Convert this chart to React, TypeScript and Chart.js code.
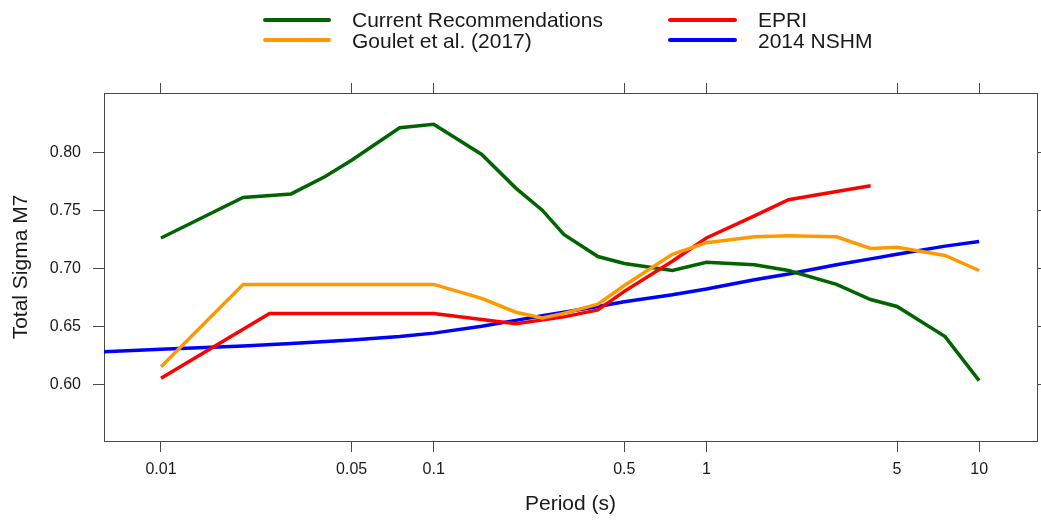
import React, { useEffect, useRef } from "react";
import { Chart, registerables } from "chart.js";

Chart.register(...registerables);

// ---- Data ----
const seriesLabels = ["Current Recommendations", "Goulet et al. (2017)", "EPRI", "2014 NSHM"];

const currentPeriods = [0.01, 0.02, 0.03, 0.04, 0.05, 0.075, 0.1, 0.15, 0.2, 0.25, 0.3, 0.4, 0.5, 0.75, 1, 1.5, 2, 3, 4, 5, 7.5, 10];
const currentSigma = [0.726, 0.761, 0.764, 0.779, 0.793, 0.821, 0.824, 0.798, 0.769, 0.750, 0.729, 0.710, 0.704, 0.698, 0.705, 0.703, 0.698, 0.686, 0.673, 0.667, 0.641, 0.603];

const gouletPeriods = [0.01, 0.02, 0.03, 0.04, 0.05, 0.075, 0.1, 0.15, 0.2, 0.25, 0.3, 0.4, 0.5, 0.75, 1, 1.5, 2, 3, 4, 5, 7.5, 10];
const gouletSigma = [0.615, 0.686, 0.686, 0.686, 0.686, 0.686, 0.686, 0.674, 0.662, 0.657, 0.661, 0.669, 0.685, 0.712, 0.722, 0.727, 0.728, 0.727, 0.717, 0.718, 0.711, 0.698];

const epriPeriods = [0.01, 0.025, 0.05, 0.1, 0.2, 0.3, 0.4, 0.5, 0.75, 1, 1.5, 2, 3, 4];
const epriSigma = [0.605, 0.661, 0.661, 0.661, 0.652, 0.658, 0.664, 0.680, 0.706, 0.726, 0.745, 0.759, 0.766, 0.771];

const nshmPeriods = [0.005, 0.01, 0.02, 0.03, 0.05, 0.075, 0.1, 0.15, 0.2, 0.25, 0.3, 0.4, 0.5, 0.75, 1, 1.5, 2, 3, 4, 5, 7.5, 10];
const nshmSigma = [0.627, 0.630, 0.633, 0.635, 0.638, 0.641, 0.644, 0.650, 0.655, 0.659, 0.662, 0.667, 0.671, 0.677, 0.682, 0.690, 0.695, 0.703, 0.708, 0.712, 0.719, 0.723];

const xTickValues = [0.01, 0.05, 0.1, 0.5, 1, 5, 10];
const xTickLabels = ["0.01", "0.05", "0.1", "0.5", "1", "5", "10"];
const yTickValues = [0.6, 0.65, 0.7, 0.75, 0.8];
const yTickLabels = ["0.60", "0.65", "0.70", "0.75", "0.80"];

const X_MIN = 0.00618;
const X_MAX = 16.3;
const Y_MIN = 0.551;
const Y_MAX = 0.851;

const colors = ["#006400", "#FF9900", "#FF0000", "#0000FF"];
const FONT = "'Liberation Sans', Arial, Helvetica, sans-serif";
const AXIS_COLOR = "#4a4a4a";
const TEXT_COLOR = "#1a1a1a";

const toXY = (xs: number[], ys: number[]) => xs.map((x, i) => ({ x, y: ys[i] }));

const legendPlugin = {
  id: "latticeLegend",
  afterDraw(chart: any) {
    const ctx = chart.ctx;
    const ds = chart.data.datasets;
    const cols = [
      { x0: 265, x1: 329, tx: 352 },
      { x0: 670, x1: 735, tx: 758 },
    ];
    const lineY = [20, 40];
    const textY = [21, 42];
    ctx.save();
    ds.forEach((d: any, i: number) => {
      const c = cols[Math.floor(i / 2)];
      const r = i % 2;
      ctx.strokeStyle = d.borderColor;
      ctx.lineWidth = 4;
      ctx.lineCap = "round";
      ctx.beginPath();
      ctx.moveTo(c.x0, lineY[r]);
      ctx.lineTo(c.x1, lineY[r]);
      ctx.stroke();
      ctx.fillStyle = TEXT_COLOR;
      ctx.font = `21px ${FONT}`;
      ctx.textAlign = "left";
      ctx.textBaseline = "middle";
      ctx.fillText(d.label, c.tx, textY[r]);
    });
    ctx.restore();
  },
};

const gridOpts = (len: number) => ({
  display: true,
  drawOnChartArea: false,
  drawTicks: true,
  tickLength: len,
  color: AXIS_COLOR,
  tickColor: AXIS_COLOR,
  lineWidth: 1,
});
const borderOpts = { display: true, color: AXIS_COLOR, width: 1 };

export default function App() {
  const ref = useRef<HTMLCanvasElement | null>(null);

  useEffect(() => {
    if (!ref.current) return;
    Chart.defaults.font.family = FONT;
    const setXTicks = (s: any) => {
      s.ticks = xTickValues.map((v) => ({ value: v }));
    };
    const setYTicks = (s: any) => {
      s.ticks = yTickValues.map((v) => ({ value: v }));
    };
    const xLabel = (v: any) => {
      const i = xTickValues.findIndex((t) => Math.abs(t - Number(v)) < 1e-9);
      return i >= 0 ? xTickLabels[i] : "";
    };
    const yLabel = (v: any) => {
      const i = yTickValues.findIndex((t) => Math.abs(t - Number(v)) < 1e-9);
      return i >= 0 ? yTickLabels[i] : "";
    };

    const chart = new Chart(ref.current, {
      type: "line",
      data: {
        datasets: [
          { label: seriesLabels[0], data: toXY(currentPeriods, currentSigma), borderColor: colors[0], order: 2 },
          { label: seriesLabels[1], data: toXY(gouletPeriods, gouletSigma), borderColor: colors[1], order: 0 },
          { label: seriesLabels[2], data: toXY(epriPeriods, epriSigma), borderColor: colors[2], order: 1 },
          { label: seriesLabels[3], data: toXY(nshmPeriods, nshmSigma), borderColor: colors[3], order: 3 },
        ].map((d) => ({
          ...d,
          backgroundColor: d.borderColor,
          borderWidth: 3.5,
          pointRadius: 0,
          pointHoverRadius: 0,
          tension: 0,
          fill: false,
        })),
      },
      options: {
        animation: false,
        responsive: true,
        maintainAspectRatio: false,
        devicePixelRatio: 1,
        layout: { padding: { top: 83, left: 0, right: 0, bottom: 0 } },
        plugins: {
          legend: { display: false },
          tooltip: { enabled: false },
          title: { display: false },
        },
        scales: {
          x: {
            type: "logarithmic",
            position: "bottom",
            min: X_MIN,
            max: X_MAX,
            bounds: "data",
            afterBuildTicks: setXTicks,
            afterFit: (s: any) => {
              s.height = 80;
            },
            grid: gridOpts(11),
            border: borderOpts,
            ticks: {
              callback: xLabel,
              autoSkip: false,
              maxRotation: 0,
              padding: 8,
              color: TEXT_COLOR,
              font: { size: 16, family: FONT },
            },
            title: {
              display: true,
              text: "Period (s)",
              color: TEXT_COLOR,
              font: { size: 21, family: FONT },
              padding: { top: 0, bottom: 4 },
            },
          },
          x2: {
            type: "logarithmic",
            position: "top",
            min: X_MIN,
            max: X_MAX,
            bounds: "data",
            afterBuildTicks: setXTicks,
            afterFit: (s: any) => {
              s.height = 10;
            },
            grid: gridOpts(10),
            border: borderOpts,
            ticks: { display: false, autoSkip: false },
          },
          y: {
            type: "linear",
            position: "left",
            min: Y_MIN,
            max: Y_MAX,
            bounds: "data",
            afterBuildTicks: setYTicks,
            afterFit: (s: any) => {
              s.width = 104;
            },
            grid: gridOpts(11),
            border: borderOpts,
            ticks: {
              callback: yLabel,
              autoSkip: false,
              padding: 12,
              color: TEXT_COLOR,
              font: { size: 16, family: FONT },
            },
            title: {
              display: true,
              text: "Total Sigma M7",
              color: TEXT_COLOR,
              font: { size: 21, family: FONT },
              padding: { top: 9, bottom: 0 },
            },
          },
          y2: {
            type: "linear",
            position: "right",
            min: Y_MIN,
            max: Y_MAX,
            bounds: "data",
            afterBuildTicks: setYTicks,
            afterFit: (s: any) => {
              s.width = 4;
            },
            grid: gridOpts(10),
            border: borderOpts,
            ticks: { display: false, autoSkip: false },
          },
        },
      } as any,
      plugins: [legendPlugin],
    });
    return () => chart.destroy();
  }, []);

  return (
    <div style={{ position: "fixed", left: 0, top: 0, width: 1041, height: 521, background: "#fff" }}>
      <canvas ref={ref} />
    </div>
  );
}
